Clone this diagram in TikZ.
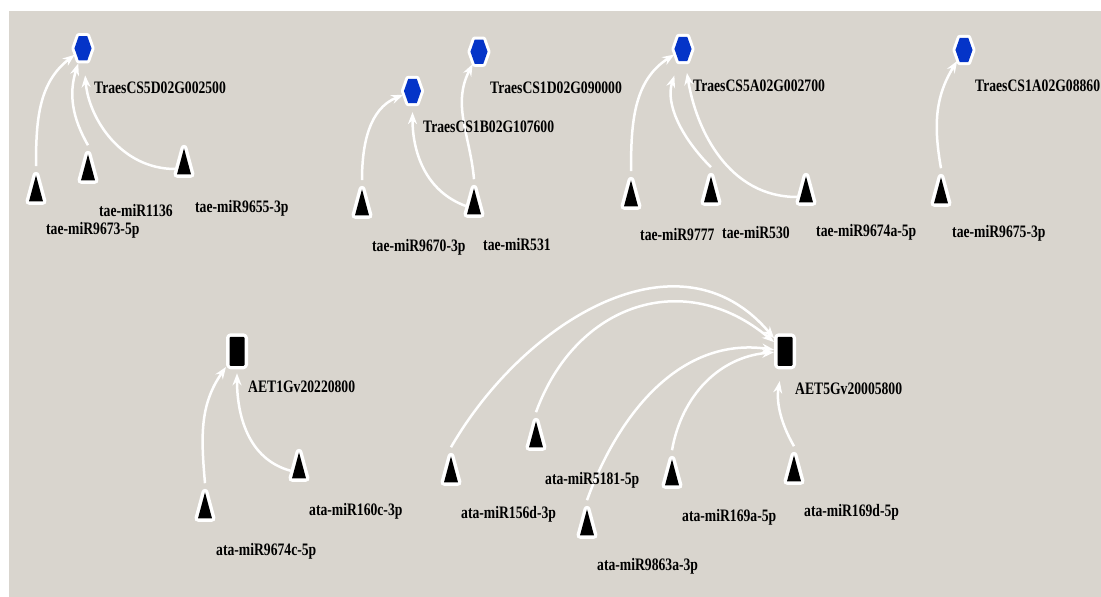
\documentclass[tikz,border=0pt]{standalone}
\usepackage{fontspec}
\setmainfont{Liberation Serif}
\usepackage{graphicx}
\usepackage{xcolor}
\usetikzlibrary{shapes.geometric, arrows.meta, positioning}

\definecolor{bggrey}{RGB}{217,213,206}
\definecolor{geneblue}{RGB}{4,52,200}

\tikzset{
    rim/.style={preaction={draw=white, line width=#1, line join=round}},
    gene/.style={regular polygon, regular polygon sides=6, minimum size=28pt,
        xscale=0.61, inner sep=0pt, outer sep=3pt, fill=geneblue, rim=6pt},
    mirna/.style={isosceles triangle, shape border rotate=90,
        isosceles triangle stretches, minimum width=14pt, minimum height=26pt,
        inner sep=0pt, outer sep=3.5pt, fill=black, rim=7pt},
    target/.style={rectangle, rounded corners=1pt, minimum width=15pt,
        minimum height=29pt, inner sep=0pt, outer sep=3.5pt, fill=black, rim=7pt},
    lbl/.style={anchor=west, inner sep=0pt, font=\bfseries\fontsize{17.5}{19}\selectfont},
    link/.style={->, draw=white, line width=2.5pt},
}
\newcommand{\squeeze}[1]{\scalebox{0.78}[1]{#1}}

\begin{document}
\begin{tikzpicture}[x=1pt, y=1pt, >={Stealth[length=12pt, width=9pt]}]

    % =================================================================
    % 1. KHUNG NEN XAM
    % =================================================================
    \useasboundingbox (0,0) rectangle (1101,597);
    \fill[bggrey] (9,0) rectangle (1101,586);

    % =================================================================
    % 2. CAC GEN DICH (luc giac xanh, hinh chu nhat den)
    % =================================================================
    \node[gene] (g5D) at (83,548.7) {};
    \node[gene] (g1B) at (412.5,506) {};
    \node[gene] (g1D) at (479,545.3) {};
    \node[gene] (g5A) at (683,548) {};
    \node[gene] (g1A) at (964,547) {};
    \node[target] (aet1) at (237,245.7) {};
    \node[target] (aet5) at (785,245.7) {};

    % =================================================================
    % 3. CAC miRNA (tam giac den)
    % =================================================================
    \node[mirna] (m9673) at (36,401) {};
    \node[mirna] (m1136) at (88,422) {};
    \node[mirna] (m9655) at (184,428) {};
    \node[mirna] (m9670) at (362,387) {};
    \node[mirna] (m531) at (474,388) {};
    \node[mirna] (m9777) at (631,396) {};
    \node[mirna] (m530) at (711,400) {};
    \node[mirna] (m9674a) at (806,400) {};
    \node[mirna] (m9675) at (941,399) {};
    \node[mirna] (m9674c) at (205,84) {};
    \node[mirna] (m160c) at (299,124) {};
    \node[mirna] (m156d) at (451,120) {};
    \node[mirna] (m5181) at (536,155) {};
    \node[mirna] (m9863a) at (587,67) {};
    \node[mirna] (m169a) at (672,117) {};
    \node[mirna] (m169d) at (794,121) {};

    % =================================================================
    % 4. CAC CUNG NOI miRNA -> GEN
    % =================================================================
    \draw[link] (m9673.apex) to[out=90, in=215] (g5D);
    \draw[link] (m1136.apex) to[out=120, in=250] (g5D);
    \draw[link, shorten >=12pt] (m9655) to[out=180, in=275] (g5D);

    \draw[link] (m9670.apex) to[out=90, in=200] (g1B);
    \draw[link, shorten >=6pt] (m531) to[out=160, in=270] (g1B);
    \draw[link] (m531.apex) to[out=95, in=240] (g1D);

    \draw[link] (m9777.apex) to[out=90, in=210] (g5A);
    \draw[link, shorten >=12pt] (m530.apex) to[out=135, in=250] (g5A);
    \draw[link, shorten >=9pt] (m9674a) to[out=180, in=280] (g5A);

    \draw[link] (m9675.apex) to[out=100, in=235] (g1A);

    \draw[link] (m9674c.apex) to[out=95, in=235] (aet1);
    \draw[link, shorten >=4pt] (m160c) to[out=165, in=270] (aet1);

    \draw[link] (m156d.apex) to[out=60, in=130, looseness=1.1] (aet5);
    \draw[link] (m5181.apex) to[out=70, in=140, looseness=1.2] (aet5);
    \draw[link] (m9863a.apex) to[out=70, in=172] (aet5);
    \draw[link] (m169a.apex) to[out=80, in=185] (aet5);
    \draw[link, shorten >=12pt] (m169d.apex) to[out=120, in=260] (aet5);

    % =================================================================
    % 5. NHAN
    % =================================================================
    \node[lbl] (l5D) at (94,509) {\squeeze{TraesCS5D02G002500}};
    \node[lbl] (l9673) at (46,366.5) {\squeeze{tae-miR9673-5p}};
    \node[lbl] (l1136) at (99,386) {\squeeze{tae-miR1136}};
    \node[lbl] (l9655) at (195,389) {\squeeze{tae-miR9655-3p}};
    \node[lbl] (l1B) at (423,470.3) {\squeeze{TraesCS1B02G107600}};
    \node[lbl] (l1D) at (490,509.5) {\squeeze{TraesCS1D02G090000}};
    \node[lbl] (l9670) at (372,349.5) {\squeeze{tae-miR9670-3p}};
    \node[lbl] (l531) at (483,352) {\squeeze{tae-miR531}};
    \node[lbl] (l5A) at (693,511) {\squeeze{TraesCS5A02G002700}};
    \node[lbl] (l9777) at (640,362) {\squeeze{tae-miR9777}};
    \node[lbl] (l530) at (722,364) {\squeeze{tae-miR530}};
    \node[lbl] (l9674a) at (816,365) {\squeeze{tae-miR9674a-5p}};
    \node[lbl] (l1A) at (975,511) {\squeeze{TraesCS1A02G08860}};
    \node[lbl] (l9675) at (952,364) {\squeeze{tae-miR9675-3p}};
    \node[lbl] (laet1) at (248,210) {\squeeze{AET1Gv20220800}};
    \node[lbl] (l9674c) at (216,45.3) {\squeeze{ata-miR9674c-5p}};
    \node[lbl] (l160c) at (309,85.3) {\squeeze{ata-miR160c-3p}};
    \node[lbl] (laet5) at (795,208.7) {\squeeze{AET5Gv20005800}};
    \node[lbl] (l156d) at (461,83) {\squeeze{ata-miR156d-3p}};
    \node[lbl] (l5181) at (545,116.3) {\squeeze{ata-miR5181-5p}};
    \node[lbl] (l9863a) at (597,30.3) {\squeeze{ata-miR9863a-3p}};
    \node[lbl] (l169a) at (682,79.7) {\squeeze{ata-miR169a-5p}};
    \node[lbl] (l169d) at (804,84.3) {\squeeze{ata-miR169d-5p}};

\end{tikzpicture}
\end{document}
